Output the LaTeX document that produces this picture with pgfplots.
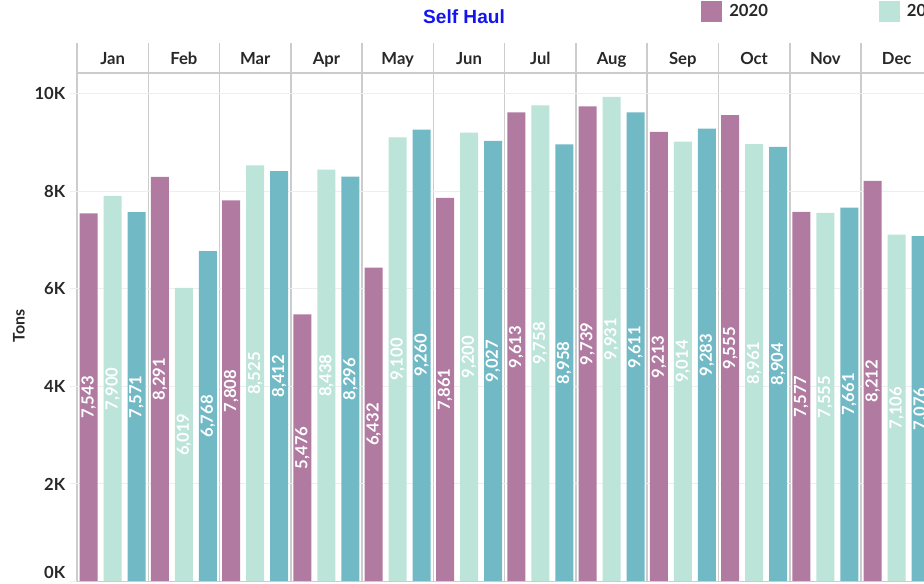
\documentclass[border=0pt]{standalone}
\usepackage{fontspec}
\setmainfont{Lato}
\newfontfamily\titlefont{Liberation Sans}
\usepackage{pgfplots}
\usepackage{pgfplotstable}
\pgfplotsset{compat=1.18}
\newlength\px \setlength\px{0.75pt}
\definecolor{cA}{RGB}{176,122,161}
\definecolor{cB}{RGB}{188,228,216}
\definecolor{cC}{RGB}{114,185,198}
\definecolor{sepc}{RGB}{204,204,204}
\definecolor{gridc}{RGB}{238,238,238}
\definecolor{txt}{RGB}{40,40,40}
\definecolor{ttl}{RGB}{20,20,240}

\pgfplotstableread{
m a b c
0 7543 7900 7571
1 8291 6019 6768
2 7808 8525 8412
3 5476 8438 8296
4 6432 9100 9260
5 7861 9200 9027
6 9613 9758 8958
7 9739 9931 9611
8 9213 9014 9283
9 9555 8961 8904
10 7577 7555 7661
11 8212 7106 7076
}\data

\pgfplotsset{
  mybar/.style={ybar, bar width=18\px, draw=none, fill=#1,
    legend image code/.code={\fill[#1] (0\px,-10.5\px) rectangle (21\px,10.5\px);}},
  mylab/.style={draw=none, mark=none, forget plot, nodes near coords,
    point meta=explicit,
    nodes near coords={\pgfmathprintnumber[fixed,precision=0,1000 sep={,},assume math mode=true]{\pgfplotspointmeta}},
    every node near coord/.append style={anchor=center, rotate=90, text=white,
      font=\fontsize{12.5pt}{14pt}\selectfont\bfseries, inner sep=0pt}},
}

\begin{document}
\begin{tikzpicture}
\useasboundingbox (0,0) rectangle (924\px,-583\px);
\clip (0,0) rectangle (924\px,-583\px);
\begin{axis}[
  scale only axis,
  width=855.3\px, height=538.5\px,
  anchor=south west, at={(77\px,-581.5\px)},
  xmin=-0.5, xmax=11.5, ymin=0, ymax=11035,
  scaled y ticks=false,
  axis line style={draw=none},
  xtick={0,...,11},
  xticklabels={Jan,Feb,Mar,Apr,May,Jun,Jul,Aug,Sep,Oct,Nov,Dec},
  xticklabel pos=upper,
  xticklabel style={anchor=base, yshift=-28\px},
  xtick style={draw=none},
  minor xtick={-0.5,0.5,...,11.5},
  xminorgrids,
  minor grid style={sepc, line width=1.5\px},
  ytick={2000,4000,6000,8000,10000},
  yticklabels={2K,4K,6K,8K,10K},
  extra y ticks={0}, extra y tick labels={0K},
  extra y tick style={yticklabel style={yshift=9.5\px}},
  ymajorgrids,
  major grid style={gridc, line width=1\px},
  ytick style={gridc, line width=1\px},
  major tick length=7\px, tick align=outside,
  tick label style={font=\fontsize{12.5pt}{14pt}\selectfont\bfseries, text=txt},
  ylabel={Tons},
  every axis y label/.style={at={(axis description cs:-0.0678,0.4745)}, rotate=90, anchor=center,
     font=\fontsize{12pt}{14pt}\selectfont\bfseries, text=txt},
  title={Self Haul},
  every axis title/.style={at={(axis description cs:0.4525,1.0492)}, anchor=center,
     font=\titlefont\fontsize{14.3pt}{16pt}\selectfont\bfseries, text=ttl},
  legend style={at={(axis description cs:0.7296,1.0585)}, anchor=west, draw=none, fill=none,
     inner sep=0pt, nodes={inner sep=0pt, font=\fontsize{12.5pt}{14pt}\selectfont\bfseries, text=txt},
     legend columns=3,
     /tikz/every odd column/.append style={column sep=7\px},
     /tikz/every even column/.append style={column sep=111\px}},
  legend cell align=left,
]
\addplot[mybar=cA, bar shift=-24\px] table[x=m, y=a] {\data};
\addlegendentry{2020}
\addplot[mybar=cB, bar shift=0\px] table[x=m, y=b] {\data};
\addlegendentry{2021}
\addplot[mybar=cC, bar shift=24\px] table[x=m, y=c] {\data};
\addlegendentry{2022}
\addplot[mylab] table[x expr=\thisrow{m}-0.3367, y expr=\thisrow{a}/2, meta=a] {\data};
\addplot[mylab] table[x expr=\thisrow{m}, y expr=\thisrow{b}/2, meta=b] {\data};
\addplot[mylab] table[x expr=\thisrow{m}+0.3367, y expr=\thisrow{c}/2, meta=c] {\data};
\draw[sepc, line width=1.5\px] (axis cs:-0.5,0) -- (axis cs:11.5,0);
\draw[sepc, line width=1.5\px] (axis cs:-0.5,10420) -- (axis cs:11.5,10420);
\end{axis}
\end{tikzpicture}
\end{document}
